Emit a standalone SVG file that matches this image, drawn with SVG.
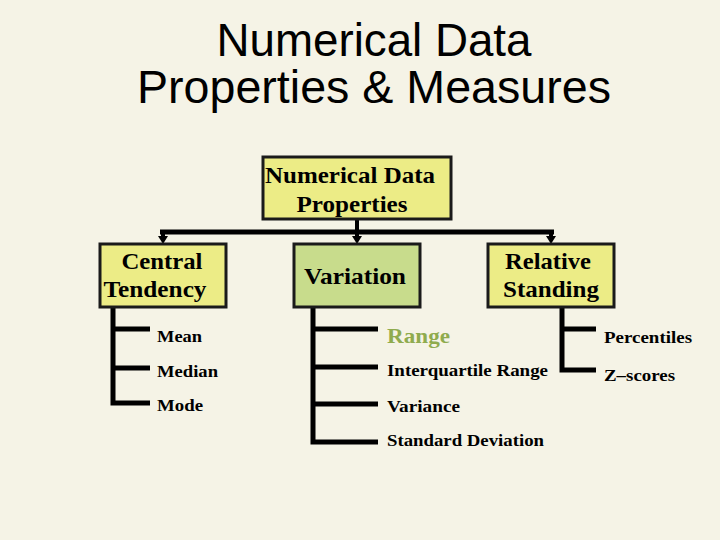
<svg xmlns="http://www.w3.org/2000/svg" width="720" height="540" viewBox="0 0 720 540">
<defs>
<style>
.bg{fill:#f5f3e6}
.title{font-family:"Liberation Sans",Arial,sans-serif;font-size:46px;fill:#000;text-anchor:middle}
.box{stroke:#1a1a1a;stroke-width:3}
.yel{fill:#ecec86}
.grn{fill:#c8dc8c}
.bt{font-family:"Liberation Serif","Times New Roman",serif;font-weight:bold;font-size:24px;fill:#000;text-anchor:middle}
.it{font-family:"Liberation Serif","Times New Roman",serif;font-weight:bold;font-size:17px;fill:#000}
.rng{font-family:"Liberation Serif","Times New Roman",serif;font-weight:bold;font-size:22px;fill:#8fab4e}
.ln{stroke:#000;stroke-width:5;fill:none}
.cn{stroke:#000;stroke-width:4;fill:none}
.ah{fill:#000}
</style>
</defs>
<rect class="bg" x="0" y="0" width="720" height="540"/>
<g id="title">
<text class="title" x="374" y="56" textLength="315" lengthAdjust="spacingAndGlyphs">Numerical Data</text>
<text class="title" x="374" y="103" textLength="474" lengthAdjust="spacingAndGlyphs">Properties &amp; Measures</text>
</g>
<g id="connectors">
<path class="cn" d="M357,219 V232"/>
<path class="ln" d="M160,232 H554"/>
<path class="cn" d="M163,232 V238"/>
<path class="cn" d="M357,232 V238"/>
<path class="cn" d="M551,232 V238"/>
<polygon class="ah" points="158,236 168,236 163,244"/>
<polygon class="ah" points="352,236 362,236 357,244"/>
<polygon class="ah" points="546,236 556,236 551,244"/>
<path class="ln" d="M113,307 V403 H150 M113,329 H150 M113,368 H150"/>
<path class="ln" d="M313,307 V442 H378 M313,329 H378 M313,367 H378 M313,404 H378"/>
<path class="ln" d="M562,307 V370 H596 M562,329 H596"/>
</g>
<g id="root">
<rect class="box yel" x="263" y="157" width="188" height="62"/>
<text class="bt" x="350" y="183" textLength="170" lengthAdjust="spacingAndGlyphs">Numerical Data</text>
<text class="bt" x="352" y="212" textLength="111" lengthAdjust="spacingAndGlyphs">Properties</text>
</g>
<g id="central">
<rect class="box yel" x="100" y="244" width="126" height="63"/>
<text class="bt" x="162" y="269" textLength="81" lengthAdjust="spacingAndGlyphs">Central</text>
<text class="bt" x="155" y="297" textLength="103" lengthAdjust="spacingAndGlyphs">Tendency</text>
</g>
<g id="variation">
<rect class="box grn" x="294" y="244" width="126" height="63"/>
<text class="bt" x="355" y="284" textLength="102" lengthAdjust="spacingAndGlyphs">Variation</text>
</g>
<g id="relative">
<rect class="box yel" x="488" y="244" width="126" height="63"/>
<text class="bt" x="548" y="269" textLength="86" lengthAdjust="spacingAndGlyphs">Relative</text>
<text class="bt" x="551" y="297" textLength="96" lengthAdjust="spacingAndGlyphs">Standing</text>
</g>
<g id="items">
<text class="it" x="157" y="342" textLength="45" lengthAdjust="spacingAndGlyphs">Mean</text>
<text class="it" x="157" y="377" textLength="61" lengthAdjust="spacingAndGlyphs">Median</text>
<text class="it" x="157" y="411" textLength="46" lengthAdjust="spacingAndGlyphs">Mode</text>
<text class="rng" x="387" y="343" textLength="63" lengthAdjust="spacingAndGlyphs">Range</text>
<text class="it" x="387" y="376" textLength="161" lengthAdjust="spacingAndGlyphs">Interquartile Range</text>
<text class="it" x="387" y="412" textLength="73" lengthAdjust="spacingAndGlyphs">Variance</text>
<text class="it" x="387" y="446" textLength="157" lengthAdjust="spacingAndGlyphs">Standard Deviation</text>
<text class="it" x="604" y="343" textLength="88" lengthAdjust="spacingAndGlyphs">Percentiles</text>
<text class="it" x="604" y="381" textLength="71" lengthAdjust="spacingAndGlyphs">Z–scores</text>
</g>
</svg>
